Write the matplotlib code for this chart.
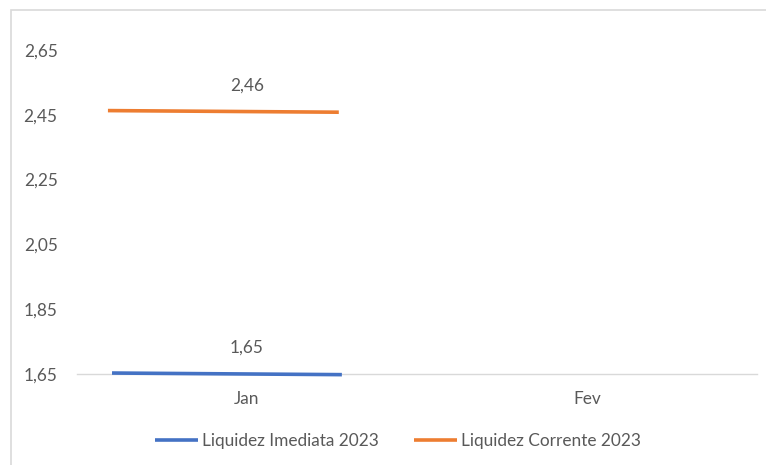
import matplotlib
matplotlib.use("Agg")
import matplotlib.pyplot as plt
from matplotlib.patches import Rectangle

categories = ["Jan", "Fev"]
series_names = ["Liquidez Imediata 2023", "Liquidez Corrente 2023"]
# start / end value of each segment drawn in the Jan category
imediata_jan = [1.653, 1.648]
corrente_jan = [2.463, 2.458]
labels_values = [1.65, 2.46]
yticks = [1.65, 1.85, 2.05, 2.25, 2.45, 2.65]

colors = ["#4472C4", "#ED7D31"]
text_color = "#595959"
line_color = "#D9D9D9"

plt.rcParams['font.family'] = ['Lato', 'DejaVu Sans']
FS = 12.4

W, H = 766, 465
fig = plt.figure(figsize=(W / 100, H / 100), dpi=100)

# chart outer border
fig.patches.append(Rectangle((11 / W, -0.1), 1.2, 1 - 10 / H + 0.1,
                             transform=fig.transFigure, fill=False,
                             edgecolor=line_color, linewidth=1.2))

ymin, ytop = 1.65, 2.72
px_per_unit = 324.0
top_px = 374 - (ytop - ymin) * px_per_unit
ax = fig.add_axes([77 / W, 1 - 374 / H, (757 - 77) / W, (374 - top_px) / H])
ax.set_xlim(-0.5, 1.5)
ax.set_ylim(ymin, ytop)

offs = {0: (-0.397, 0.279), 1: (-0.409, 0.27)}
for i, vals in enumerate([imediata_jan, corrente_jan]):
    x0, x1 = offs[i]
    ax.plot([x0, x1], vals, color=colors[i], linewidth=2.6,
            solid_capstyle='butt', label=series_names[i], clip_on=False, zorder=3)
    ax.annotate(f"{labels_values[i]:.2f}".replace(".", ","), (0, labels_values[i]),
                xytext=(0, 26 * 0.72), textcoords='offset points',
                ha='center', va='center', color=text_color, fontsize=FS)

for s in ["top", "right", "left"]:
    ax.spines[s].set_visible(False)
ax.spines["bottom"].set_color(line_color)
ax.spines["bottom"].set_linewidth(1.0)
ax.set_xticks(range(len(categories)))
ax.set_xticklabels(categories)
ax.set_yticks(yticks)
ax.set_yticklabels([f"{v:.2f}".replace(".", ",") for v in yticks])
ax.tick_params(axis='both', length=0, colors=text_color, labelsize=FS)
ax.tick_params(axis='y', pad=14)
ax.tick_params(axis='x', pad=12)

fig.legend(loc='center', bbox_to_anchor=(398 / W, 1 - 441 / H), ncol=2,
           frameon=False, fontsize=FS, handlelength=2.5, handletextpad=0.25,
           columnspacing=2.0, labelcolor=text_color)

fig.savefig("out.png", dpi=100)
